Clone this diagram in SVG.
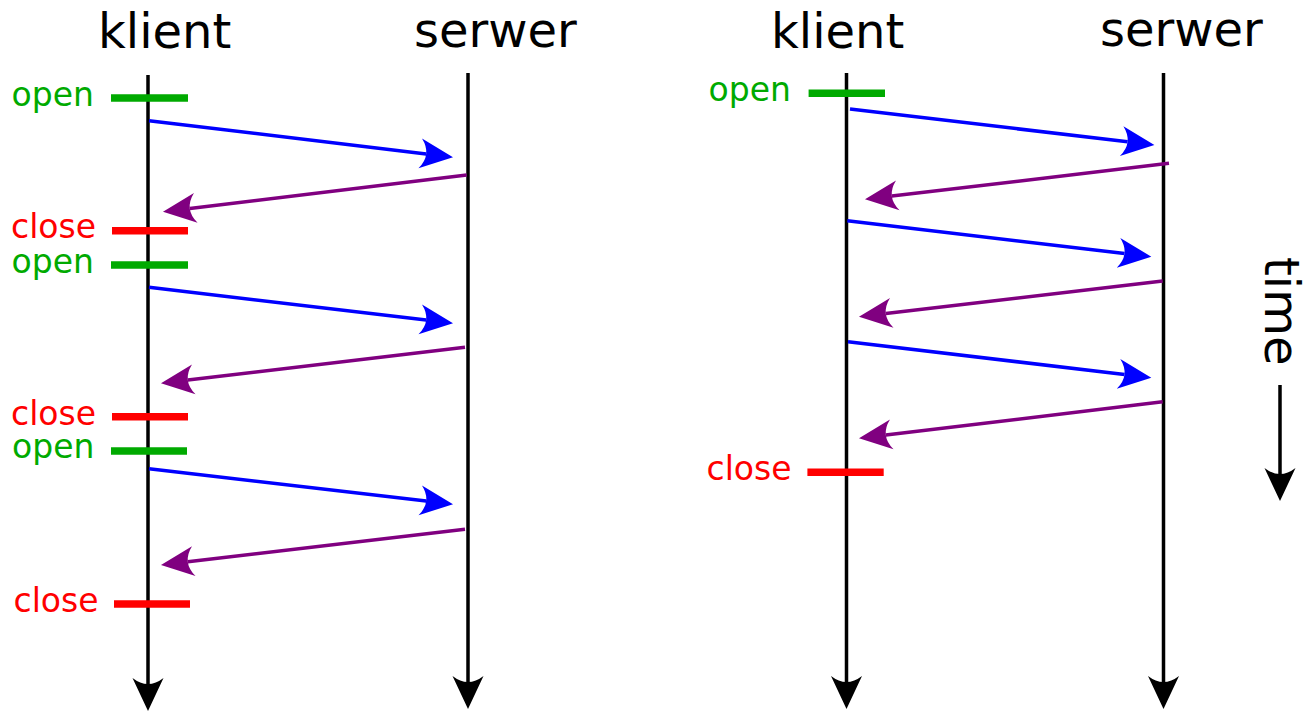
<svg xmlns="http://www.w3.org/2000/svg" width="1310" height="712" viewBox="0 0 1310 712">
<style>
text{font-family:"DejaVu Sans","Liberation Sans",sans-serif}
.title{font-size:48px;fill:#000}
.lbl{font-size:33px}
.open{fill:#00aa00}
.close{fill:#ff0000}
.life{stroke:#000;stroke-width:3.5;fill:none;marker-end:url(#ah-k)}
.bo{stroke:#00aa00;stroke-width:7.5}
.bc{stroke:#ff0000;stroke-width:7.5}
.req{stroke:#0000ff;stroke-width:3.5;fill:none;marker-end:url(#ah-b)}
.res{stroke:#800080;stroke-width:3.5;fill:none;marker-end:url(#ah-p)}
</style>
<defs>
<marker id="ah-k" markerUnits="userSpaceOnUse" orient="auto" markerWidth="40" markerHeight="40" overflow="visible"><path d="M27,0 L-6,-15.5 Q6,0 -6,15.5 Z" fill="#000"/></marker>
<marker id="ah-b" markerUnits="userSpaceOnUse" orient="auto" markerWidth="40" markerHeight="40" overflow="visible"><path d="M27,0 L-6,-15 Q6,0 -6,15 Z" fill="#0000ff"/></marker>
<marker id="ah-p" markerUnits="userSpaceOnUse" orient="auto" markerWidth="40" markerHeight="40" overflow="visible"><path d="M27,0 L-6,-15 Q6,0 -6,15 Z" fill="#800080"/></marker>
</defs>
<rect width="1310" height="712" fill="#fff"/>

<g id="left-klient"><text class="title" x="98" y="48">klient</text><path class="life" d="M148,75 V684"/></g>
<g id="left-serwer"><text class="title" x="414" y="47">serwer</text><path class="life" d="M468,73 V682"/></g>
<g id="right-klient"><text class="title" x="771" y="48">klient</text><path class="life" d="M846.5,73 V682"/></g>
<g id="right-serwer"><text class="title" x="1100" y="46">serwer</text><path class="life" d="M1163.5,73 V682"/></g>

<g id="left-open1"><text class="lbl open" x="11.5" y="106">open</text><path class="bo" d="M111,98 H188"/></g>
<g id="left-close1"><text class="lbl close" x="11" y="238">close</text><path class="bc" d="M112,230.7 H188"/></g>
<g id="left-open2"><text class="lbl open" x="11.5" y="273">open</text><path class="bo" d="M111,265 H188"/></g>
<g id="left-close2"><text class="lbl close" x="11" y="425">close</text><path class="bc" d="M112,416.7 H188"/></g>
<g id="left-open3"><text class="lbl open" x="12" y="458">open</text><path class="bo" d="M111,451 H187"/></g>
<g id="left-close3"><text class="lbl close" x="13.5" y="612">close</text><path class="bc" d="M114,604 H190"/></g>

<g id="right-open"><text class="lbl open" x="708.5" y="101">open</text><path class="bo" d="M808.6,93.3 H885"/></g>
<g id="right-close"><text class="lbl close" x="706.5" y="480">close</text><path class="bc" d="M807.4,472.3 H883.7"/></g>

<g id="time"><text class="title" transform="translate(1265,257) rotate(90)">time</text><path class="life" d="M1280,385 V474"/></g>

<g id="connectors">
<path class="req" d="M149,120.7 L426.2,154.1"/>
<path class="res" d="M466.7,175 L189.8,208.5"/>
<path class="req" d="M149,287.3 L426.2,320.1"/>
<path class="res" d="M465,347.3 L187.8,380.1"/>
<path class="req" d="M149,468.7 L426.2,501.1"/>
<path class="res" d="M465,529.3 L187.8,561.8"/>
<path class="req" d="M850,109 L1127.6,141.8"/>
<path class="res" d="M1169,163.3 L891.8,196.1"/>
<path class="req" d="M847.3,220.7 L1124.5,253.5"/>
<path class="res" d="M1162.7,281 L885.8,313.5"/>
<path class="req" d="M848,341.7 L1124.5,374.5"/>
<path class="res" d="M1162.7,401.7 L885.8,435.1"/>
</g>
</svg>
